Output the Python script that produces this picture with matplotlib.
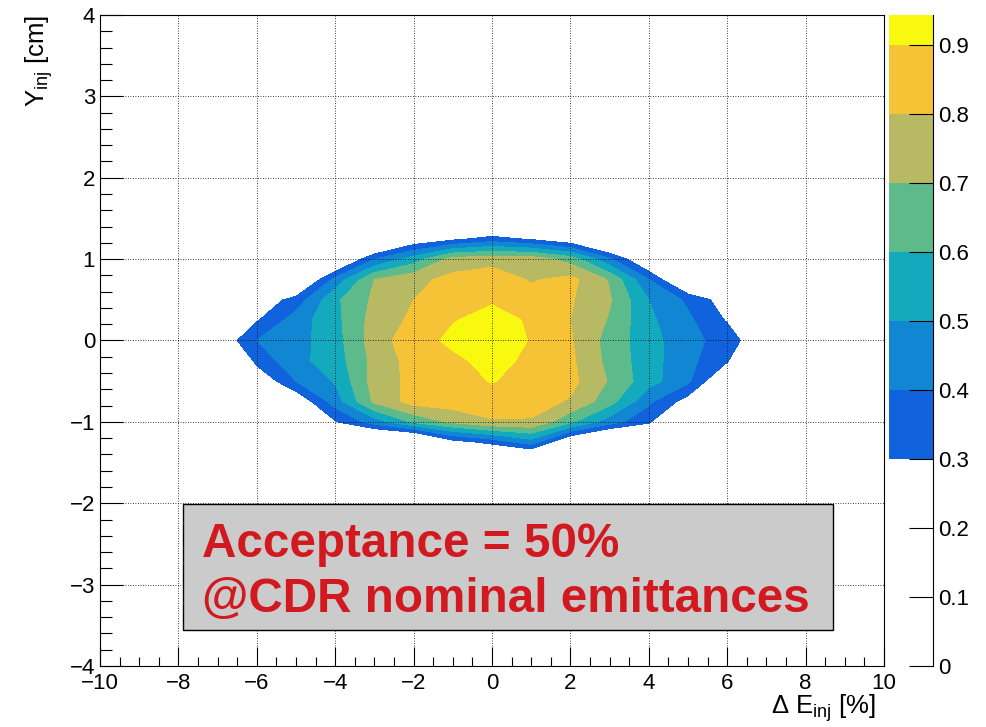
import matplotlib

matplotlib.use("Agg")
import matplotlib.pyplot as plt
import numpy as np
from matplotlib.patches import Rectangle
from matplotlib.ticker import FuncFormatter, MultipleLocator

plt.rcParams["font.family"] = ["Liberation Sans", "DejaVu Sans"]
plt.rcParams["mathtext.fontset"] = "custom"
plt.rcParams["mathtext.rm"] = "Liberation Sans"
plt.rcParams["mathtext.it"] = "Liberation Sans:italic"
plt.rcParams["mathtext.bf"] = "Liberation Sans:bold"

# bin centres of the acceptance scan
de_inj = [-7, -6, -5, -4, -3, -2, -1, 0, 1, 2, 3, 4, 5, 6, 7]
y_inj = [-1.5, -1.25, -1.0, -0.75, -0.5, -0.25, 0.0, 0.25, 0.5, 0.75, 1.0, 1.25, 1.5]

# acceptance per bin, one row per y_inj value (bottom to top)
acc_ym150 = [0, 0, 0, 0, 0, 0, 0, 0, 0, 0, 0, 0, 0, 0, 0]
acc_ym125 = [0, 0, 0, 0, 0, 0, 0.25, 0.33, 0.45, 0.15, 0, 0, 0, 0, 0]
acc_ym100 = [0, 0, 0, 0.29, 0.45, 0.62, 0.72, 0.79, 0.79, 0.62, 0.45, 0.32, 0, 0, 0]
acc_ym075 = [0, 0, 0.20, 0.45, 0.72, 0.84, 0.85, 0.86, 0.84, 0.79, 0.64, 0.42, 0.25, 0, 0]
acc_ym050 = [0, 0.20, 0.40, 0.51, 0.74, 0.83, 0.86, 0.905, 0.86, 0.83, 0.69, 0.54, 0.42, 0.15, 0]
acc_ym025 = [0, 0.33, 0.47, 0.55, 0.73, 0.84, 0.88, 0.93, 0.88, 0.82, 0.67, 0.54, 0.43, 0.31, 0]
acc_y000 = [0.20, 0.40, 0.46, 0.56, 0.75, 0.86, 0.92, 0.945, 0.895, 0.81, 0.66, 0.54, 0.43, 0.36, 0.18]
acc_yp025 = [0, 0.29, 0.45, 0.57, 0.74, 0.82, 0.895, 0.93, 0.89, 0.80, 0.69, 0.52, 0.42, 0.29, 0]
acc_yp050 = [0, 0.22, 0.34, 0.58, 0.72, 0.80, 0.85, 0.89, 0.84, 0.81, 0.71, 0.50, 0.38, 0.24, 0]
acc_yp075 = [0, 0, 0.10, 0.43, 0.70, 0.77, 0.83, 0.86, 0.79, 0.83, 0.69, 0.40, 0.10, 0, 0]
acc_yp100 = [0, 0, 0, 0.10, 0.40, 0.55, 0.74, 0.76, 0.76, 0.66, 0.42, 0.15, 0, 0, 0]
acc_yp125 = [0, 0, 0, 0, 0, 0.20, 0.27, 0.34, 0.28, 0.20, 0, 0, 0, 0, 0]
acc_yp150 = [0, 0, 0, 0, 0, 0, 0, 0, 0, 0, 0, 0, 0, 0, 0]

levels = [0.3, 0.4, 0.5, 0.6, 0.7, 0.8, 0.9, 1.0]
level_colors = ["#1062DD", "#1187D3", "#14AABD", "#5DBB8B", "#B8BA63", "#F5C335", "#F9F90F"]
z_top = 0.943
cbar_ticks = [0, 0.1, 0.2, 0.3, 0.4, 0.5, 0.6, 0.7, 0.8, 0.9]

acc = np.array([acc_ym150, acc_ym125, acc_ym100, acc_ym075, acc_ym050, acc_ym025, acc_y000,
                acc_yp025, acc_yp050, acc_yp075, acc_yp100, acc_yp125, acc_yp150])
X, Y = np.meshgrid(de_inj, y_inj)

fig = plt.figure(figsize=(9.86, 7.27), dpi=100)
ax = fig.add_axes([0.10142, 0.08391, 0.79513, 0.89546])
cax = fig.add_axes([0.90162, 0.08391, 0.04462, 0.89546])

ax.contourf(X, Y, acc, levels=levels, colors=level_colors, zorder=1)
ax.set_xlim(-10, 10)
ax.set_ylim(-4, 4)
ax.xaxis.set_major_locator(MultipleLocator(2))
ax.xaxis.set_minor_locator(MultipleLocator(0.5))
ax.yaxis.set_major_locator(MultipleLocator(1))
ax.yaxis.set_minor_locator(MultipleLocator(0.2))
ax.set_axisbelow(False)
ax.grid(True, which="major", color="black", linestyle=(0, (1, 2)), linewidth=0.6)
ax.tick_params(which="both", direction="in", top=False, right=False, width=0.8, labelsize=16)
ax.tick_params(axis="x", which="major", length=13.7, pad=5)
ax.tick_params(axis="x", which="minor", length=6.8)
ax.tick_params(axis="y", which="major", length=16.6, pad=3.6)
ax.tick_params(axis="y", which="minor", length=8.6)
for s in ax.spines.values():
    s.set_linewidth(0.8)

ax.set_xlabel(r"Δ E$_{\rm inj}$ [%]", fontsize=18.5, loc="right", va="baseline")
ax.xaxis.set_label_coords(0.99, -0.0737)
ax.set_ylabel(r"Y$_{\rm inj}$ [cm]", fontsize=18.5, loc="top", va="baseline")
ax.yaxis.set_label_coords(-0.0702, 1.0)

# text box
ax.add_patch(Rectangle((0.106, 0.0553), 0.829, 0.1937, transform=ax.transAxes,
                       facecolor="#CBCBCB", edgecolor="black", linewidth=1, zorder=4))
ax.text(0.1307, 0.168, "Acceptance = 50%", transform=ax.transAxes, fontsize=34.3,
        fontweight="bold", color="#D2191F", va="baseline", ha="left", zorder=5)
ax.text(0.1307, 0.0834, "@CDR nominal emittances", transform=ax.transAxes, fontsize=34.3,
        fontweight="bold", color="#D2191F", va="baseline", ha="left", zorder=5)

# palette axis
for lo, hi, c in zip(levels[:-1], levels[1:], level_colors):
    cax.bar(0.5, hi - lo, bottom=lo, width=1, color=c, linewidth=0)
cax.set_xlim(0, 1)
cax.set_ylim(0, z_top)
cax.set_xticks([])
cax.set_yticks(cbar_ticks)
cax.yaxis.set_major_formatter(FuncFormatter(lambda v, _: f"{v:g}"))
cax.tick_params(axis="y", left=False, right=True, labelleft=False, labelright=True,
                direction="in", length=17, width=0.8, pad=3.6, labelsize=16)
for side in ["left", "top", "bottom"]:
    cax.spines[side].set_visible(False)
cax.spines["right"].set_linewidth(0.8)

fig.savefig("out.png", dpi=100)
